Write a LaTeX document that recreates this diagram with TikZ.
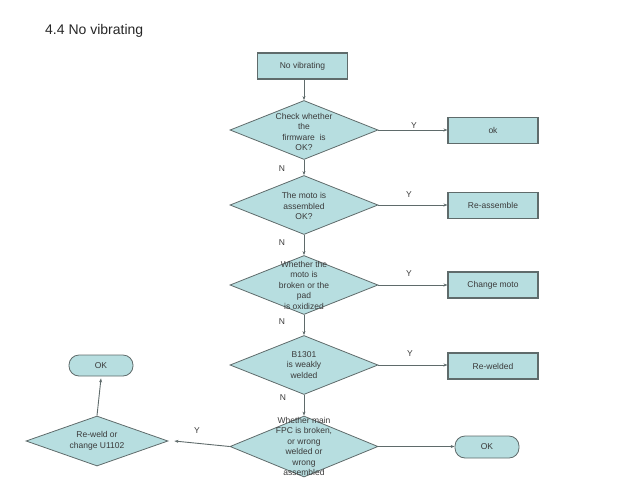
\documentclass[tikz,border=0pt]{standalone}
\usepackage{fontspec}
\setmainfont{Liberation Sans}
\usetikzlibrary{shapes.geometric,arrows.meta}
\definecolor{fillc}{HTML}{B7DEE0}
\definecolor{linec}{HTML}{5F6B6B}
\definecolor{txtc}{HTML}{3A3A3A}
\tikzset{
  every node/.style={font=\fontsize{8.5}{10.5}\selectfont, text=txtc},
  dia/.style={diamond, draw=linec, fill=fillc, line width=0.8pt, inner sep=0pt, minimum width=148pt, minimum height=59pt},
  dtext/.style={align=center, inner sep=0pt},
  box/.style={rectangle, draw=linec, fill=fillc, line width=1.1pt, minimum width=90pt, minimum height=26pt, inner sep=0pt},
  term/.style={rectangle, rounded corners=10pt, draw=linec, fill=fillc, line width=0.8pt, minimum width=64pt, minimum height=22pt, inner sep=0pt},
  conn/.style={draw=linec, line width=0.9pt, -{Stealth[length=4pt,width=3pt]}},
  lab/.style={inner sep=0pt}
}
\begin{document}
\begin{tikzpicture}[x=1pt,y=-1pt]
\useasboundingbox (0,0) rectangle (640,480);
\node[anchor=west, inner sep=0pt, font=\fontsize{14}{16}\selectfont, text=black!85] (title) at (45,31) {4.4 No vibrating};

\node[box] (nv) at (302.5,66) {No vibrating};

\node[dia] (d1) at (304,130) {};
\node[dtext] (t1) at (304,132) {Check whether\\the\\firmware\ \ is\\OK?};
\node[box] (ok1) at (493,130.5) {ok};

\node[dia] (d2) at (304,205) {};
\node[dtext] (t2) at (304,206) {The moto is\\assembled\\OK?};
\node[box] (ra) at (493,205.5) {Re-assemble};

\node[dia] (d3) at (304,285) {};
\node[dtext] (t3) at (304,285) {Whether the\\moto is\\broken or the\\pad\\is oxidized};
\node[box] (cm) at (493,285) {Change moto};

\node[dia] (d4) at (304,365) {};
\node[dtext] (t4) at (304,365) {B1301\\is weakly\\welded};
\node[box] (rw) at (493,366) {Re-welded};

\node[dia, minimum height=61pt] (d5) at (304,446.5) {};
\node[dtext] (t5) at (304,446.5) {Whether main\\FPC is broken,\\or wrong\\welded or\\wrong\\assembled};
\node[term] (ok2) at (487,447) {OK};

\node[dia, minimum width=142pt, minimum height=50pt] (d6) at (97,441) {};
\node[dtext] (t6) at (97,441) {Re-weld or\\change U1102};
\node[term, minimum height=21pt] (ok3) at (101,365.5) {OK};

\draw[conn] (d1.north |- nv.south) -- (d1.north);
\draw[conn] (d1.east) -- (d1.east -| ok1.west);
\draw[conn] (d1.south) -- (d2.north);
\draw[conn] (d2.east) -- (d2.east -| ra.west);
\draw[conn] (d2.south) -- (d3.north);
\draw[conn] (d3.east) -- (d3.east -| cm.west);
\draw[conn] (d3.south) -- (d4.north);
\draw[conn] (d4.east) -- (d4.east -| rw.west);
\draw[conn] (d4.south) -- (d5.north);
\draw[conn] (d5.east) -- (d5.east -| ok2.west);
\draw[conn] (d5.west) -- ([xshift=6pt]d6.east);
\draw[conn] (d6.north) -- ([yshift=-2pt]ok3.south);

\node[lab] (y1) at (414,126) {Y};
\node[lab] (y2) at (409,195) {Y};
\node[lab] (y3) at (409,274) {Y};
\node[lab] (y4) at (410,354) {Y};
\node[lab] (y5) at (197,431) {Y};
\node[lab] (n1) at (282,169) {N};
\node[lab] (n2) at (282,243) {N};
\node[lab] (n3) at (282,322) {N};
\node[lab] (n4) at (283,398) {N};
\end{tikzpicture}
\end{document}
